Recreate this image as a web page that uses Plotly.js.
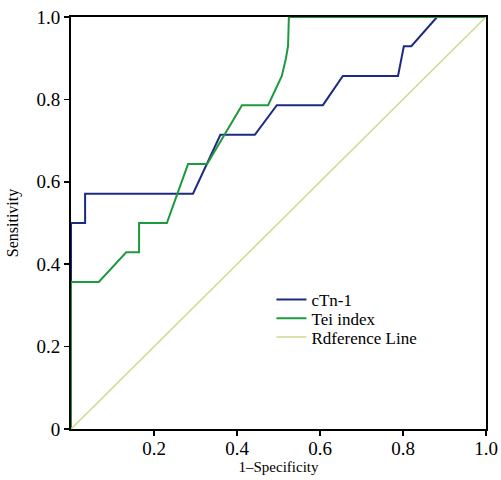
<!DOCTYPE html>
<html><head><meta charset="utf-8">
<script src="https://cdn.plot.ly/plotly-3.0.1.min.js"></script>
<style>body{margin:0;background:#fff}#c{width:501px;height:480px}</style>
</head><body><div id="c"></div>
<script>
const ctnX = [0, 0, 0.034, 0.034, 0.294, 0.36, 0.443, 0.496, 0.607, 0.655, 0.788, 0.802, 0.82, 0.882, 1.0];
const ctnY = [0, 0.5, 0.5, 0.571, 0.571, 0.714, 0.714, 0.786, 0.786, 0.857, 0.857, 0.929, 0.929, 1.0, 1.0];
const teiX = [0, 0, 0.067, 0.133, 0.164, 0.164, 0.231, 0.282, 0.328, 0.412, 0.475, 0.49, 0.508, 0.518, 0.523, 0.525, 1.0];
const teiY = [0, 0.357, 0.357, 0.429, 0.429, 0.5, 0.5, 0.643, 0.643, 0.786, 0.786, 0.82, 0.857, 0.9, 0.93, 1.0, 1.0];
const refX = [0, 1];
const refY = [0, 1];
const xTicks = [0.2, 0.4, 0.6, 0.8, 1.0];
const xTickText = ["0.2", "0.4", "0.6", "0.8", "1.0"];
const yTicks = [0, 0.2, 0.4, 0.6, 0.8, 1.0];
const yTickText = ["0", "0.2", "0.4", "0.6", "0.8", "1.0"];
const seriesNames = ["cTn-1", "Tei index", "Rdference Line"];

const FAM = "Liberation Serif, Times New Roman, serif";
const data = [
  {x: ctnX, y: ctnY, name: seriesNames[0], mode: "lines", legend: "legend", line: {color: "#1c2a82", width: 2}},
  {x: teiX, y: teiY, name: seriesNames[1], mode: "lines", legend: "legend2", line: {color: "#1d9a3d", width: 2}},
  {x: refX, y: refY, name: seriesNames[2], mode: "lines", legend: "legend3", line: {color: "#d3d68e", width: 1.5}}
];
function leg(y) {
  return {x: 0.483, y: y, xanchor: "left", yanchor: "middle", bgcolor: "rgba(0,0,0,0)",
    font: {family: FAM, size: 17, color: "#000"}, itemwidth: 30};
}
const layout = {
  width: 501, height: 480,
  margin: {l: 71, r: 15, t: 17, b: 51},
  paper_bgcolor: "#fff", plot_bgcolor: "#fff",
  font: {family: FAM, color: "#000", size: 19},
  showlegend: true,
  legend: leg(0.313), legend2: leg(0.268), legend3: leg(0.222),
  xaxis: {range: [0, 1], tickvals: xTicks, ticktext: xTickText, ticks: "outside", ticklen: 5,
    ticklabelstandoff: -4,
    tickwidth: 1.5, tickcolor: "#000", showline: true, linecolor: "#000", linewidth: 2, mirror: true,
    showgrid: false, zeroline: false, tickfont: {family: FAM, size: 19, color: "#000"},
    title: {text: "1–Specificity", font: {family: FAM, size: 15, color: "#000"}, standoff: 2}},
  yaxis: {range: [0, 1], tickvals: yTicks, ticktext: yTickText, ticks: "outside", ticklen: 5,
    tickwidth: 1.5, tickcolor: "#000", showline: true, linecolor: "#000", linewidth: 2, mirror: true,
    showgrid: false, zeroline: false, tickfont: {family: FAM, size: 19, color: "#000"},
    title: {text: "Sensitivity", font: {family: FAM, size: 16, color: "#000"}, standoff: 14}}
};
Plotly.newPlot("c", data, layout, {displayModeBar: false, staticPlot: true});
</script></body></html>
